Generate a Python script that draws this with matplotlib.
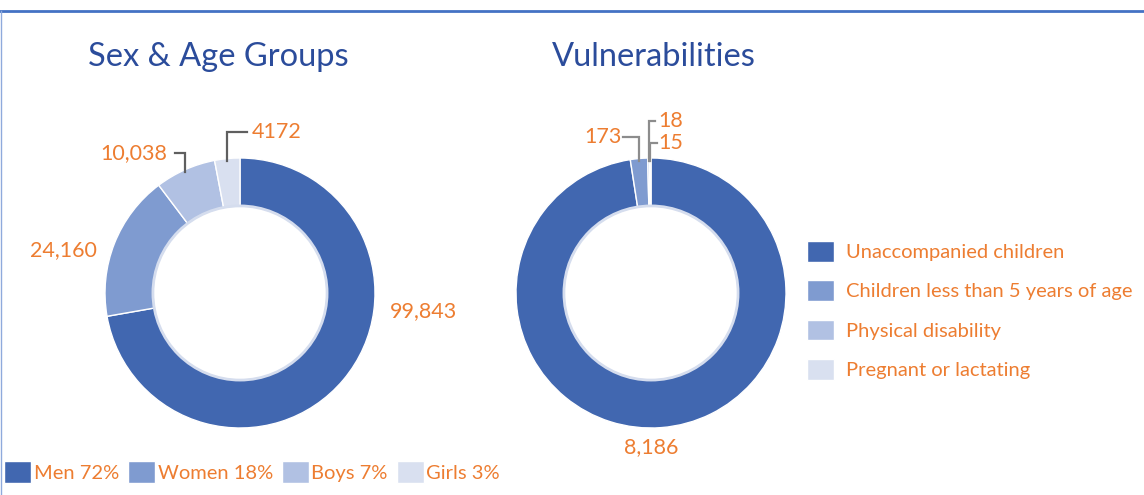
import numpy as np
import matplotlib
matplotlib.use('Agg')
import matplotlib.pyplot as plt
from matplotlib.lines import Line2D

plt.rcParams['font.family'] = ['Lato', 'DejaVu Sans']

# 数据
sexAgeNames = ['Men', 'Women', 'Boys', 'Girls']
sexAgeValues = [99843, 24160, 10038, 4172]
sexAgeText = ['99,843', '24,160', '10,038', '4172']
sexAgePercent = [72, 18, 7, 3]

vulnNames = ['Unaccompanied children', 'Children less than 5 years of age',
             'Physical disability', 'Pregnant or lactating']
vulnValues = [8186, 173, 18, 15]
vulnText = ['8,186', '173', '18', '15']

colors = ['#4167B0', '#7F9BD0', '#B1C1E3', '#D9E0F0']
orange = '#ED7D31'
titleBlue = '#2B4C9B'

W, H = 1144, 495
fig = plt.figure(figsize=(W / 100, H / 100), dpi=100)


def donut_axes(cx, cy, r=135):
    return fig.add_axes([(cx - r) / W, (H - cy - r) / H, 2 * r / W, 2 * r / H])


def mid_angle(values, i):
    # 顺时针从顶部开始
    frac = np.cumsum([0] + list(values)) / np.sum(values)
    m = (frac[i] + frac[i + 1]) / 2
    return np.deg2rad(90 - 360 * m)


def draw_donut(ax, values):
    wedges, _ = ax.pie(values, colors=colors, startangle=90, counterclock=False,
                       radius=1, wedgeprops=dict(width=0.36, edgecolor='white', linewidth=1))
    ring = plt.Circle((0, 0), 0.645, fill=False, edgecolor='#D5DDEE', linewidth=2)
    ax.add_patch(ring)
    ax.set_xlim(-1, 1)
    ax.set_ylim(-1, 1)
    ax.set_aspect('equal')
    ax.axis('off')
    return wedges


def leader(ax, values, i, y, xend, color):
    a = mid_angle(values, i)
    x0, y0 = np.cos(a), np.sin(a)
    ax.plot([x0, x0, xend], [y0 - 0.02, y, y], color=color, lw=1.6, clip_on=False,
            solid_joinstyle='miter')


# 左边：性别和年龄
ax1 = donut_axes(240, 293)
wedges1 = draw_donut(ax1, sexAgeValues)
fig.text(218 / W, 1 - 57 / H, 'Sex & Age Groups', fontsize=23.5, color=titleBlue,
         ha='center', va='center')
lblFont = dict(fontsize=15.5, color=orange, va='center', clip_on=False)
ax1.text(1.356, -0.133, sexAgeText[0], ha='center', **lblFont)
ax1.text(-1.311, 0.319, sexAgeText[1], ha='center', **lblFont)
ax1.text(-0.54, 1.037, sexAgeText[2], ha='right', **lblFont)
leader(ax1, sexAgeValues, 2, 1.037, -0.48, '#5F5F5F')
ax1.text(0.09, 1.193, sexAgeText[3], ha='left', **lblFont)
leader(ax1, sexAgeValues, 3, 1.193, 0.052, '#5F5F5F')

# 右边：脆弱群体
ax2 = donut_axes(651, 293)
wedges2 = draw_donut(ax2, vulnValues)
fig.text(654 / W, 1 - 57 / H, 'Vulnerabilities', fontsize=23.5, color=titleBlue,
         ha='center', va='center')
ax2.text(0, -1.141, vulnText[0], ha='center', **lblFont)
ax2.text(-0.215, 1.156, vulnText[1], ha='right', **lblFont)
leader(ax2, vulnValues, 1, 1.156, -0.207, '#8C8C8C')
ax2.text(0.052, 1.274, vulnText[2], ha='left', **lblFont)
leader(ax2, vulnValues, 2, 1.274, 0.03, '#8C8C8C')
ax2.text(0.052, 1.111, vulnText[3], ha='left', **lblFont)
leader(ax2, vulnValues, 3, 1.111, 0.044, '#8C8C8C')

# 图例
fig.legend(wedges1, [f'{n} {p}%' for n, p in zip(sexAgeNames, sexAgePercent)],
           loc='lower left', bbox_to_anchor=(4 / W, 12 / H), ncol=4, frameon=False,
           fontsize=14.5, labelcolor=orange, handlelength=1.35, handleheight=1.3,
           handletextpad=0.12, columnspacing=0.45, borderpad=0, borderaxespad=0)
fig.legend(wedges2, vulnNames, loc='upper left', bbox_to_anchor=(807 / W, 1 - 241 / H),
           ncol=1, frameon=False, fontsize=14.5, labelcolor=orange, handlelength=1.35,
           handleheight=1.2, handletextpad=0.6, labelspacing=0.93, borderpad=0,
           borderaxespad=0)

# 边框
fig.add_artist(Line2D([0, 1], [1 - 11 / H, 1 - 11 / H], color='#4472C4', lw=2,
                      transform=fig.transFigure))
fig.add_artist(Line2D([0.5 / W, 0.5 / W], [0, 1 - 11 / H], color='#8FAADC', lw=1,
                      transform=fig.transFigure))

fig.savefig('out.png', dpi=100)
